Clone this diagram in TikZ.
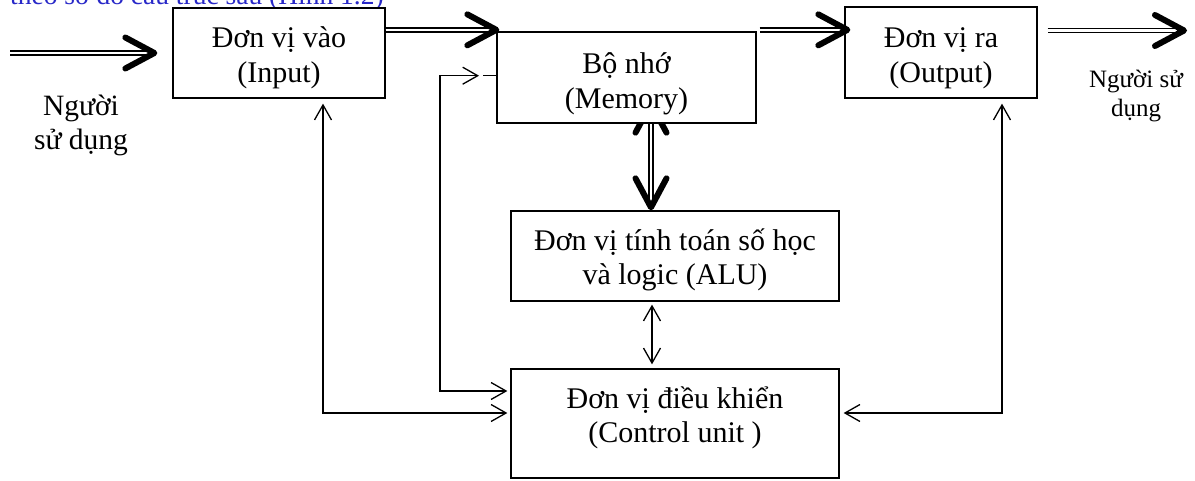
\documentclass[tikz,border=0pt]{standalone}
\usepackage{fontspec}
\setmainfont{Liberation Serif}
\usetikzlibrary{arrows.meta, calc, positioning, backgrounds}
\definecolor{capblue}{RGB}{40,40,200}
\tikzset{fathead/.tip={Straight Barb[length=29pt,width=31pt,line width=6pt,round,color=black]}}

\begin{document}
\begin{tikzpicture}[x=1pt, y=-1pt,
  box/.style={draw, line width=1.3pt, fill=white, align=center, inner sep=0pt, text depth=3pt, font=\fontsize{30}{34.5}\selectfont},
  thin/.style={line width=1.3pt, >={Straight Barb[length=15pt,width=17pt]}},
  fat/.style={draw=white, line width=0.8pt, -fathead,
    preaction={draw=black, -, double=white, double distance=2.4pt, line width=1.5pt, shorten >=5pt, #1}},
  fat/.default={}]
\useasboundingbox (0,0) rectangle (1195,481);

\node[font=\fontsize{27.5}{32}\selectfont, text=capblue, anchor=base west, inner sep=0pt] (cap) at (10,5) {theo sơ đồ cấu trúc sau (Hình 1.2)};

\node[box, text height=62pt, minimum width=212pt, minimum height=90pt] (inp) at (279,53) {Đơn vị vào\\(Input)};
\node[box, text height=65pt, minimum width=259pt, minimum height=91pt] (mem) at (626.5,77.5) {Bộ nhớ\\(Memory)};
\node[box, text height=63pt, minimum width=192pt, minimum height=91pt] (out) at (941,52.5) {Đơn vị ra\\(Output)};
\node[box, text height=60pt, minimum width=328pt, minimum height=90pt] (alu) at (675,256) {Đơn vị tính toán số học\\và logic (ALU)};
\node[box, text height=41pt, minimum width=328pt, minimum height=109pt] (ctl) at (675,423.5) {Đơn vị điều khiển\\(Control unit )};

\node[font=\fontsize{29.5}{34}\selectfont, align=center] (usr1) at (81,125) {Người\\sử dụng};
\node[font=\fontsize{25}{29}\selectfont, align=center] (usr2) at (1136,96) {Người sử\\dụng};

% data paths
\coordinate (u0) at (10,53);
\coordinate (m0) at ([shift={(3pt,1.5pt)}]mem.north west);
\coordinate (r0) at (1187,30.5);
\draw[fat] (u0) -- ([xshift=-15pt]inp.west);
\draw[fat] (inp.east |- m0) -- (m0);
\draw[fat] ($(mem.east |- m0)+(3,0)$) -- ($(out.west |- m0)+(6,0)$);
\draw[fat] ($(out.east |- r0)+(10,0)$) -- (r0);
\begin{scope}[on background layer]
\draw[fat={shorten <=5pt}, fathead-fathead] ($(mem.south)+(24.5,-23)$) -- ($(alu.north)+(-24,0)$);
\end{scope}

% control paths
\coordinate (i1) at (323,413);
\coordinate (o1) at (1002,413);
\coordinate (k0) at (440,391);
\coordinate (k1) at (479,75.7);
\draw[thin, <->] ($(inp.south -| i1)+(0,5)$) |- ($(ctl.west |- i1)+(-3,0)$);
\draw[thin, <->] ($(out.south -| o1)+(0,5)$) |- ($(ctl.east |- o1)+(4,0)$);
\draw[thin, <->] ($(ctl.west |- k0)+(-3,0)$) -| (k0 |- k1) -- (k1);
\draw[thin] ($(k1)+(4,0)$) -- (mem.west |- k1);
\draw[thin, <->] ($(alu.south)+(-23,3)$) -- ($(ctl.north)+(-23,-4)$);
\end{tikzpicture}
\end{document}
